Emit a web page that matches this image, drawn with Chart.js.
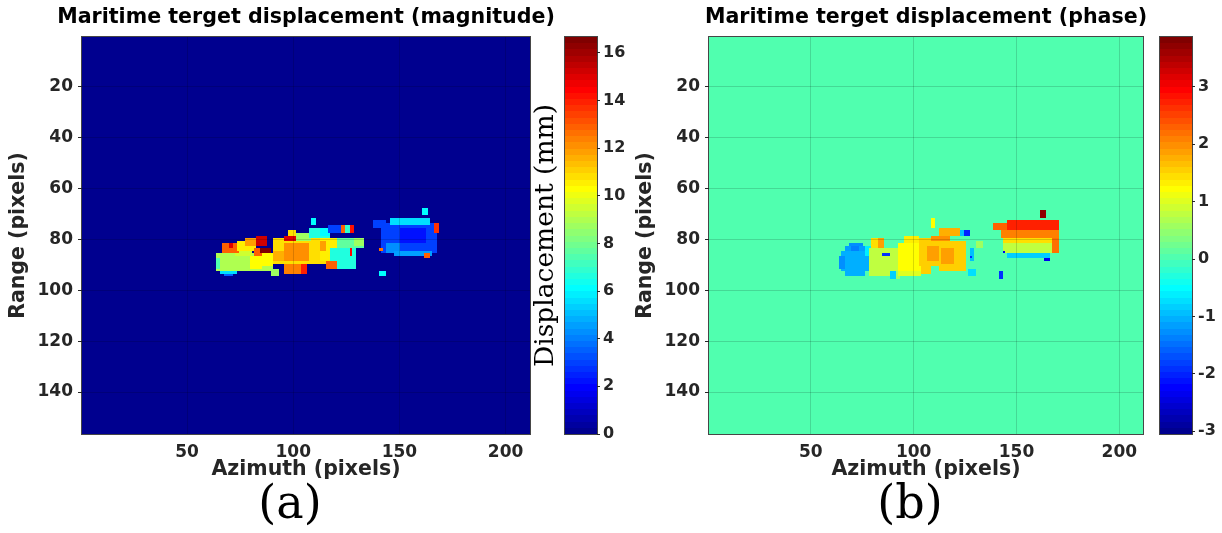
<!DOCTYPE html>
<html>
<head>
<meta charset="utf-8">
<script src="https://cdn.jsdelivr.net/npm/chart.js@4.4.1/dist/chart.umd.min.js"></script>
<style>
  body { margin: 0; background: #fff; }
  #wrap { position: relative; width: 1222px; height: 533px; overflow: hidden; }
  canvas { position: absolute; top: 0; }
  .tag { position: absolute; top: 479px; width: 120px; text-align: center;
         font-family: 'DejaVu Serif', serif; font-size: 46px; line-height: 46px; color: #000; }
</style>
</head>
<body>
<div id="wrap">
  <canvas id="magMap" width="612" height="500" style="left:0"></canvas>
  <canvas id="magBar" width="100" height="500" style="left:525px"></canvas>
  <canvas id="phaseMap" width="602" height="500" style="left:625px"></canvas>
  <canvas id="phaseBar" width="97" height="500" style="left:1125px"></canvas>
  <div class="tag" style="left:230px">(a)</div>
  <div class="tag" style="left:850px">(b)</div>
</div>
<script>
'use strict';

// axes of both images
var azimuthLimits = [0.5, 211.5];
var rangeLimits = [0.5, 156.5];
var azimuthTicks = [50, 100, 150, 200];
var rangeTicks = [20, 40, 60, 80, 100, 120, 140];

// magnitude (mm). patches are [az from, az to, range from, range to, value]
var magnitudeLimits = [0, 16.66];
var magnitudeTicks = [0, 2, 4, 6, 8, 10, 12, 14, 16];
var magnitudeBackground = 0;
var magnitudePatches = [
  [63.5, 90.5, 85.5, 92.5, 8.9],
  [63.5, 65.5, 87.5, 91.5, 7.4],
  [65.5, 73.5, 92.5, 93.5, 5.6],
  [67.5, 71.5, 93.5, 94.5, 3.4],
  [72.5, 80.5, 84.5, 86.5, 9.5],
  [66.5, 74.5, 81.5, 85.5, 12.8],
  [69.5, 71.5, 81.5, 83.5, 15.0],
  [73.5, 82.5, 80.5, 84.5, 10.6],
  [77.5, 82.5, 79.5, 82.5, 11.8],
  [82.5, 87.5, 78.5, 82.5, 15.2],
  [81.5, 85.5, 83.5, 86.5, 12.8],
  [84.5, 89.5, 83.5, 85.5, 16.5],
  [79.5, 85.5, 86.5, 91.5, 10.4],
  [85.5, 90.5, 85.5, 90.5, 10.2],
  [89.5, 93.5, 91.5, 94.5, 8.6],
  [90.5, 117.5, 79.5, 89.5, 10.8],
  [95.5, 107.5, 81.5, 88.5, 12.2],
  [90.5, 95.5, 84.5, 88.5, 11.6],
  [97.5, 101.5, 76.5, 78.5, 10.8],
  [95.5, 101.5, 78.5, 80.5, 15.0],
  [101.5, 108.5, 77.5, 80.5, 8.8],
  [107.5, 117.5, 75.5, 79.5, 6.6],
  [108.5, 110.5, 71.5, 74.5, 6.2],
  [95.5, 103.5, 89.5, 93.5, 12.4],
  [103.5, 106.5, 89.5, 93.5, 13.8],
  [112.5, 120.5, 79.5, 88.5, 10.6],
  [112.5, 115.5, 80.5, 84.5, 11.8],
  [120.5, 133.5, 79.5, 83.5, 7.6],
  [128.5, 133.5, 79.5, 82.5, 8.6],
  [117.5, 129.5, 83.5, 91.5, 6.7],
  [126.5, 127.5, 83.5, 86.5, 14.5],
  [115.5, 120.5, 88.5, 91.5, 12.8],
  [112.5, 117.5, 75.5, 78.5, 6.0],
  [116.5, 122.5, 74.5, 77.5, 2.9],
  [122.5, 124.5, 74.5, 77.5, 12.8],
  [124.5, 126.5, 74.5, 77.5, 7.0],
  [126.5, 128.5, 74.5, 77.5, 14.2],
  [137.5, 143.5, 72.5, 75.5, 3.0],
  [141.5, 167.5, 73.5, 85.5, 2.9],
  [145.5, 164.5, 71.5, 74.5, 5.6],
  [150.5, 162.5, 75.5, 81.5, 2.2],
  [143.5, 150.5, 81.5, 85.5, 4.2],
  [147.5, 165.5, 84.5, 86.5, 4.6],
  [160.5, 163.5, 67.5, 70.5, 6.1],
  [166.5, 168.5, 73.5, 77.5, 13.6],
  [161.5, 164.5, 85.5, 87.5, 12.9],
  [140.5, 142.5, 83.5, 84.5, 12.5],
  [140.5, 143.5, 92.5, 94.5, 6.0]
];

// phase (rad)
var phaseLimits = [-3.05, 3.87];
var phaseTicks = [-3, -2, -1, 0, 1, 2, 3];
var phaseBackground = 0;
var phasePatches = [
  [64.5, 78.5, 84.5, 92.5, -1.1],
  [66.5, 76.5, 82.5, 84.5, -1.15],
  [68.5, 75.5, 81.5, 82.5, -1.25],
  [66.5, 76.5, 92.5, 94.5, -1.0],
  [63.5, 66.5, 86.5, 91.5, -1.3],
  [69.5, 73.5, 82.5, 84.5, -1.35],
  [76.5, 79.5, 82.5, 86.5, -0.6],
  [78.5, 95.5, 83.5, 94.5, 0.75],
  [79.5, 85.5, 79.5, 83.5, 1.45],
  [82.5, 85.5, 79.5, 83.5, 1.85],
  [84.5, 88.5, 85.5, 86.5, -1.9],
  [88.5, 91.5, 92.5, 95.5, -0.8],
  [91.5, 93.5, 92.5, 95.5, 0.6],
  [92.5, 105.5, 81.5, 92.5, 1.2],
  [95.5, 102.5, 78.5, 81.5, 1.3],
  [102.5, 117.5, 79.5, 90.5, 1.55],
  [106.5, 116.5, 82.5, 88.5, 1.85],
  [108.5, 117.5, 78.5, 80.5, 2.0],
  [108.5, 110.5, 71.5, 75.5, 1.2],
  [92.5, 103.5, 92.5, 94.5, 1.0],
  [103.5, 108.5, 90.5, 93.5, 1.5],
  [112.5, 122.5, 75.5, 78.5, 1.8],
  [112.5, 125.5, 80.5, 92.5, 1.5],
  [113.5, 119.5, 83.5, 89.5, 1.85],
  [122.5, 124.5, 76.5, 78.5, -0.9],
  [124.5, 127.5, 76.5, 78.5, -2.0],
  [127.5, 129.5, 83.5, 88.5, -0.9],
  [127.5, 128.5, 86.5, 87.5, -1.9],
  [130.5, 133.5, 80.5, 83.5, 0.6],
  [126.5, 130.5, 91.5, 94.5, -0.75],
  [141.5, 143.5, 92.5, 95.5, -1.9],
  [138.5, 145.5, 73.5, 76.5, 2.35],
  [145.5, 170.5, 72.5, 77.5, 2.7],
  [142.5, 170.5, 76.5, 79.5, 2.1],
  [143.5, 169.5, 79.5, 81.5, 1.4],
  [143.5, 168.5, 81.5, 85.5, 0.75],
  [145.5, 166.5, 85.5, 87.5, -0.85],
  [143.5, 144.5, 84.5, 85.5, -2.3],
  [163.5, 166.5, 87.5, 88.5, -2.3],
  [161.5, 164.5, 68.5, 71.5, 3.75],
  [167.5, 170.5, 79.5, 85.5, 2.2]
];

var sans = "'DejaVu Sans', sans-serif";
var textGray = '#262626';
var gridColor = 'rgba(0,0,0,0.15)';

// matlab jet(64)
function jetU(j) {
  if (j < 16) return (j + 1) / 16;
  if (j < 31) return 1;
  return (47 - j) / 16;
}
function jetColor(k) {
  var row = k + 1;
  var r = row >= 25 ? jetU(row - 25) : 0;
  var g = (row >= 9 && row <= 55) ? jetU(row - 9) : 0;
  var b = row <= 39 ? jetU(row + 7) : 0;
  return 'rgb(' + Math.round(r * 255) + ',' + Math.round(g * 255) + ',' + Math.round(b * 255) + ')';
}
function colorOf(v, lim) {
  var k = Math.floor((v - lim[0]) / (lim[1] - lim[0]) * 64);
  return jetColor(Math.max(0, Math.min(63, k)));
}

function fillCell(ctx, xs, ys, a0, a1, r0, r1, color) {
  var x0 = Math.round(xs.getPixelForValue(a0));
  var x1 = Math.round(xs.getPixelForValue(a1));
  var y0 = Math.round(ys.getPixelForValue(r0));
  var y1 = Math.round(ys.getPixelForValue(r1));
  ctx.fillStyle = color;
  ctx.fillRect(Math.min(x0, x1), Math.min(y0, y1), Math.abs(x1 - x0), Math.abs(y1 - y0));
}

function boxPlugin() {
  return {
    id: 'box',
    afterDraw: function(chart) {
      var a = chart.chartArea, ctx = chart.ctx;
      ctx.save();
      ctx.strokeStyle = 'rgba(38,38,38,0.85)';
      ctx.lineWidth = 1;
      ctx.strokeRect(Math.round(a.left) - 0.5, Math.round(a.top) - 0.5,
        Math.round(a.right) - Math.round(a.left) + 1, Math.round(a.bottom) - Math.round(a.top) + 1);
      ctx.restore();
    }
  };
}

// image drawn before the grid so the grid sits on top, like matlab
function heatPlugin(patches, background, limits) {
  return {
    id: 'heat',
    beforeDraw: function(chart) {
      var ctx = chart.ctx, xs = chart.scales.x, ys = chart.scales.y;
      ctx.save();
      fillCell(ctx, xs, ys, xs.min, xs.max, ys.min, ys.max, colorOf(background, limits));
      for (var i = 0; i < patches.length; i++) {
        var p = patches[i];
        fillCell(ctx, xs, ys, p[0], p[1], p[2], p[3], colorOf(p[4], limits));
      }
      ctx.restore();
    }
  };
}

function barPlugin(limits) {
  return {
    id: 'bar',
    beforeDraw: function(chart) {
      var ctx = chart.ctx, xs = chart.scales.x, ys = chart.scales.y;
      var step = (limits[1] - limits[0]) / 64;
      ctx.save();
      for (var k = 0; k < 64; k++) {
        fillCell(ctx, xs, ys, 0, 1, limits[0] + k * step, limits[0] + (k + 1) * step, jetColor(k));
      }
      ctx.restore();
    }
  };
}

function tickSetter(list) {
  return function(scale) {
    scale.ticks = list.map(function(v) { return { value: v }; });
  };
}

// canvas is twice the plot centre wide, an empty right axis takes the spare room
// so the title stays centred over the plot
function makeHeatmap(id, title, patches, background, limits, yWidth, yTitlePad, spareRight) {
  var ctx = document.getElementById(id).getContext('2d');
  return new Chart(ctx, {
    type: 'scatter',
    data: { datasets: [] },
    options: {
      responsive: false,
      animation: false,
      devicePixelRatio: 1,
      layout: { padding: 0 },
      plugins: {
        legend: { display: false },
        tooltip: { enabled: false },
        title: {
          display: true, text: title, color: '#000',
          font: { family: sans, size: 20.6, weight: 'bold', lineHeight: 1.2 },
          padding: { top: 5, bottom: 7.3 }
        }
      },
      scales: {
        x: {
          type: 'linear', min: azimuthLimits[0], max: azimuthLimits[1],
          afterBuildTicks: tickSetter(azimuthTicks),
          afterFit: function(s) { s.height = 66; },
          grid: { color: gridColor, drawTicks: false },
          border: { display: false },
          ticks: { padding: 8, color: textGray, maxRotation: 0, autoSkip: false,
                   font: { family: sans, size: 17, weight: 'bold' } },
          title: { display: true, text: 'Azimuth (pixels)', color: textGray,
                   font: { family: sans, size: 20.5, weight: 'bold', lineHeight: 1.2 },
                   padding: { top: 0, bottom: 18 } }
        },
        y: {
          type: 'linear', reverse: true, min: rangeLimits[0], max: rangeLimits[1],
          afterBuildTicks: tickSetter(rangeTicks),
          afterFit: function(s) { s.width = yWidth; },
          grid: { color: gridColor, tickLength: 4, tickColor: textGray },
          border: { display: false },
          ticks: { padding: 5, color: textGray, autoSkip: false,
                   font: { family: sans, size: 17, weight: 'bold' } },
          title: { display: true, text: 'Range (pixels)', color: textGray,
                   font: { family: sans, size: 20.5, weight: 'bold', lineHeight: 1.2 },
                   padding: { top: yTitlePad, bottom: 0 } }
        },
        spare: {
          type: 'linear', position: 'right', min: 0, max: 1,
          grid: { display: false }, border: { display: false }, ticks: { display: false },
          afterFit: function(s) { s.width = spareRight; }
        }
      }
    },
    plugins: [heatPlugin(patches, background, limits), boxPlugin()]
  });
}

function makeColorbar(id, limits, ticks, label, padLeft, rightWidth) {
  var ctx = document.getElementById(id).getContext('2d');
  var scales = {
    x: { type: 'linear', display: false, min: 0, max: 1 },
    y: {
      type: 'linear', position: 'right', min: limits[0], max: limits[1],
      afterBuildTicks: tickSetter(ticks),
      afterFit: function(s) { s.width = rightWidth; },
      grid: { drawOnChartArea: false, tickLength: 3, tickColor: textGray },
      border: { display: false },
      ticks: { padding: 3, color: textGray, autoSkip: false,
               font: { family: sans, size: 16, weight: 'bold' } }
    }
  };
  if (label) {
    scales.lab = {
      type: 'linear', position: 'left', min: 0, max: 1,
      grid: { display: false }, border: { display: false }, ticks: { display: false },
      afterFit: function(s) { s.width = 40; },
      title: { display: true, text: label, color: '#000',
               font: { family: "'DejaVu Serif', serif", size: 26.5, lineHeight: 1.2 },
               padding: { top: 5, bottom: 0 } }
    };
  }
  return new Chart(ctx, {
    type: 'scatter',
    data: { datasets: [] },
    options: {
      responsive: false,
      animation: false,
      devicePixelRatio: 1,
      layout: { padding: { left: padLeft, right: 0, top: 37, bottom: 66 } },
      plugins: { legend: { display: false }, tooltip: { enabled: false }, title: { display: false } },
      scales: scales
    },
    plugins: [barPlugin(limits), boxPlugin()]
  });
}

makeHeatmap('magMap', 'Maritime terget displacement (magnitude)', magnitudePatches,
  magnitudeBackground, magnitudeLimits, 82, 6, 82);
makeColorbar('magBar', magnitudeLimits, magnitudeTicks, 'Displacement (mm)', 0, 28);
makeHeatmap('phaseMap', 'Maritime terget displacement (phase)', phasePatches,
  phaseBackground, phaseLimits, 84, 8, 84);
makeColorbar('phaseBar', phaseLimits, phaseTicks, null, 35, 30);
</script>
</body>
</html>
